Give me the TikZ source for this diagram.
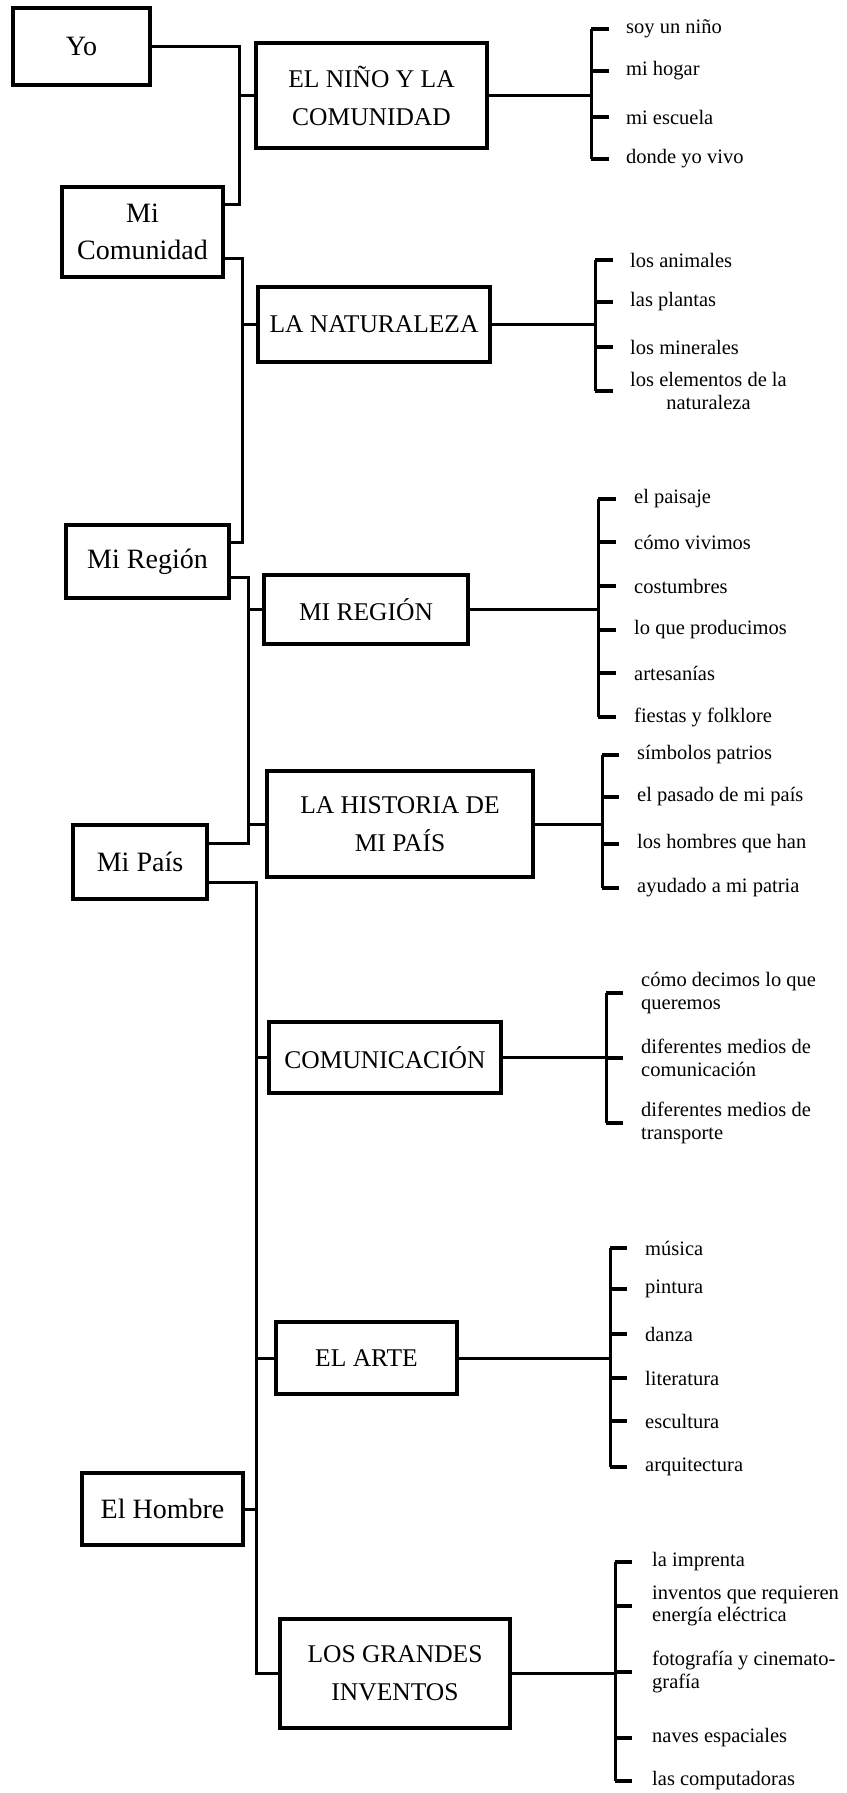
\documentclass[tikz,border=0pt]{standalone}
\usepackage{fontspec}
\setmainfont{Liberation Serif}
\usepackage{tikz}
\usetikzlibrary{positioning}

\begin{document}
\begin{tikzpicture}[x=1pt,y=-1pt,
  lbox/.style={draw,line width=3.2pt,inner sep=0pt,align=center,font=\fontsize{28}{37}\selectfont},
  mbox/.style={draw,line width=3.2pt,inner sep=0pt,align=center,font=\fontsize{25.5}{38}\selectfont},
  it/.style={anchor=west,inner sep=0pt,align=left,font=\fontsize{20.5}{22.5}\selectfont},
  ln/.style={line width=3pt},
  tk/.style={line width=4.6pt}]
\useasboundingbox (0,0) rectangle (846,1793);
% left column
\node[lbox,minimum width=137pt,minimum height=77pt] (yo) at (81.5,46.5) {Yo};
\node[lbox,minimum width=161pt,minimum height=90pt] (mc) at (142.5,232) {Mi\\Comunidad};
\node[lbox,minimum width=163pt,minimum height=73pt] (mr) at (147.5,561.5) {Mi Región};
\node[lbox,minimum width=134pt,minimum height=74pt] (mp) at (140,862) {Mi País};
\node[lbox,minimum width=161pt,minimum height=72pt] (hb) at (162.5,1509) {El Hombre};
% themes
\node[mbox,minimum width=231pt,minimum height=105pt] (nino) at (371.5,95.5) {EL NIÑO Y LA\\COMUNIDAD};
\node[mbox,minimum width=232pt,minimum height=75pt] (nat) at (374,324.5) {LA NATURALEZA};
\node[mbox,minimum width=204pt,minimum height=69pt] (reg) at (366,609.5) {MI REGIÓN};
\node[mbox,minimum width=266pt,minimum height=106pt] (his) at (400,824) {LA HISTORIA DE\\MI PAÍS};
\node[mbox,minimum width=232pt,minimum height=71pt] (com) at (385,1057.5) {COMUNICACIÓN};
\node[mbox,minimum width=181pt,minimum height=72pt] (art) at (366.5,1358) {EL ARTE};
\node[mbox,minimum width=230pt,minimum height=109pt] (inv) at (395,1673.5) {LOS GRANDES\\INVENTOS};
% trunks
\coordinate (k1) at (239,204);
\draw[ln] (yo.east) -| (k1) -- (k1 -| mc.east);
\draw[ln] (k1 |- nino.west) -- (nino.west);
\coordinate (k2a) at (242,258); \coordinate (k2b) at (242,542);
\draw[ln] (k2a -| mc.east) -- (k2a) -- (k2b) -- (k2b -| mr.east);
\draw[ln] (k2a |- nat.west) -- (nat.west);
\coordinate (k3a) at (248,577); \coordinate (k3b) at (248,843);
\draw[ln] (k3a -| mr.east) -- (k3a) -- (k3b) -- (k3b -| mp.east);
\draw[ln] (k3a |- reg.west) -- (reg.west); \draw[ln] (k3a |- his.west) -- (his.west);
\coordinate (k4) at (256,882);
\draw[ln] (k4 -| mp.east) -- (k4) |- (inv.west);
\draw[ln] (k4 |- com.west) -- (com.west); \draw[ln] (k4 |- art.west) -- (art.west);
\draw[ln] (hb.east) -- (hb.east -| k4);
% items
\node[it] (n1) at (626,29) {soy un niño};
\node[it] (n2) at (626,71) {mi hogar};
\node[it] (n3) at (626,117) {mi escuela};
\node[it] (n4) at (626,159) {donde yo vivo};
\node[it] (t1) at (630,260) {los animales};
\node[it] (t2) at (630,302) {las plantas};
\node[it] (t3) at (630,347) {los minerales};
\node[it,align=center] (t4) at (630,391) {los elementos de la\\naturaleza};
\node[it] (r1) at (634,499) {el paisaje};
\node[it] (r2) at (634,542) {cómo vivimos};
\node[it] (r3) at (634,586) {costumbres};
\node[it] (r4) at (634,630) {lo que producimos};
\node[it] (r5) at (634,673) {artesanías};
\node[it] (r6) at (634,717) {fiestas y folklore};
\node[it] (h1) at (637,755) {símbolos patrios};
\node[it] (h2) at (637,797) {el pasado de mi país};
\node[it] (h3) at (637,844) {los hombres que han};
\node[it] (h4) at (637,888) {ayudado a mi patria};
\node[it] (c1) at (641,993) {cómo decimos lo que\\queremos};
\node[it] (c2) at (641,1058) {diferentes medios de\\comunicación};
\node[it] (c3) at (641,1123) {diferentes medios de\\transporte};
\node[it] (a1) at (645,1248) {música};
\node[it] (a2) at (645,1289) {pintura};
\node[it] (a3) at (645,1334) {danza};
\node[it] (a4) at (645,1378) {literatura};
\node[it] (a5) at (645,1421) {escultura};
\node[it] (a6) at (645,1467) {arquitectura};
\node[it] (g1) at (652,1562) {la imprenta};
\node[it] (g2) at (652,1606) {inventos que requieren\\energía eléctrica};
\node[it] (g3) at (652,1672) {fotografía y cinemato-\\grafía};
\node[it] (g4) at (652,1738) {naves espaciales};
\node[it] (g5) at (652,1781) {las computadoras};
% brackets
\coordinate (bn) at (591,0); \coordinate (bt) at (595,0); \coordinate (br) at (598,0);
\coordinate (bh) at (602,0); \coordinate (bc) at (606,0); \coordinate (ba) at (610,0);
\coordinate (bg) at (615,0);
\draw[ln] (nino.east) -- (nino.east -| bn); \draw[ln] (bn |- n1.west) -- (bn |- n4.west);
\draw[tk] (bn |- n1.west) -- ++(18,0) (bn |- n2.west) -- ++(18,0) (bn |- n3.west) -- ++(18,0) (bn |- n4.west) -- ++(18,0);
\draw[ln] (nat.east) -- (nat.east -| bt); \draw[ln] (bt |- t1.west) -- (bt |- t4.west);
\draw[tk] (bt |- t1.west) -- ++(18,0) (bt |- t2.west) -- ++(18,0) (bt |- t3.west) -- ++(18,0) (bt |- t4.west) -- ++(18,0);
\draw[ln] (reg.east) -- (reg.east -| br); \draw[ln] (br |- r1.west) -- (br |- r6.west);
\draw[tk] (br |- r1.west) -- ++(18,0) (br |- r2.west) -- ++(18,0) (br |- r3.west) -- ++(18,0)
  (br |- r4.west) -- ++(18,0) (br |- r5.west) -- ++(18,0) (br |- r6.west) -- ++(18,0);
\draw[ln] (his.east) -- (his.east -| bh); \draw[ln] (bh |- h1.west) -- (bh |- h4.west);
\draw[tk] (bh |- h1.west) -- ++(17,0) (bh |- h2.west) -- ++(17,0) (bh |- h3.west) -- ++(17,0) (bh |- h4.west) -- ++(17,0);
\draw[ln] (com.east) -- (com.east -| bc); \draw[ln] (bc |- c1.west) -- (bc |- c3.west);
\draw[tk] (bc |- c1.west) -- ++(17,0) (bc |- c2.west) -- ++(17,0) (bc |- c3.west) -- ++(17,0);
\draw[ln] (art.east) -- (art.east -| ba); \draw[ln] (ba |- a1.west) -- (ba |- a6.west);
\draw[tk] (ba |- a1.west) -- ++(17,0) (ba |- a2.west) -- ++(17,0) (ba |- a3.west) -- ++(17,0)
  (ba |- a4.west) -- ++(17,0) (ba |- a5.west) -- ++(17,0) (ba |- a6.west) -- ++(17,0);
\draw[ln] (inv.east) -- (inv.east -| bg); \draw[ln] (bg |- g1.west) -- (bg |- g5.west);
\draw[tk] (bg |- g1.west) -- ++(17,0) (bg |- g2.west) -- ++(17,0) (bg |- g3.west) -- ++(17,0)
  (bg |- g4.west) -- ++(17,0) (bg |- g5.west) -- ++(17,0);
\end{tikzpicture}
\end{document}
